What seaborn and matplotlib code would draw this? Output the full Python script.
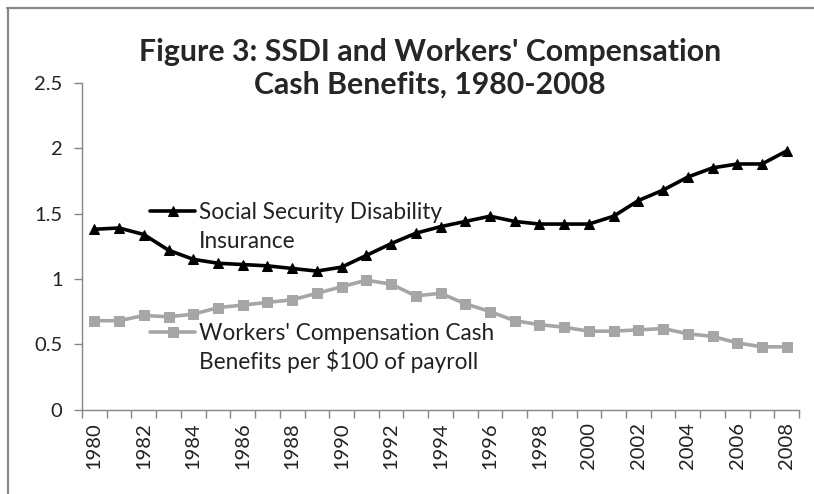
import matplotlib
matplotlib.use('Agg')
import matplotlib.pyplot as plt
import numpy as np
import pandas as pd
import seaborn as sns
from matplotlib.lines import Line2D

years = list(range(1980, 2009))
ssdi = [1.38, 1.39, 1.34, 1.22, 1.15, 1.12, 1.11, 1.10, 1.08, 1.06,
        1.09, 1.18, 1.27, 1.35, 1.40, 1.44, 1.48, 1.44, 1.42, 1.42,
        1.42, 1.48, 1.60, 1.68, 1.78, 1.85, 1.88, 1.88, 1.98]
wc = [0.68, 0.68, 0.72, 0.71, 0.73, 0.78, 0.80, 0.82, 0.84, 0.89,
      0.94, 0.99, 0.96, 0.87, 0.89, 0.81, 0.75, 0.68, 0.65, 0.63,
      0.60, 0.60, 0.61, 0.62, 0.58, 0.56, 0.51, 0.48, 0.48]
ssdi_label = ['Social Security Disability', 'Insurance']
wc_label = ["Workers' Compensation Cash", 'Benefits per $100 of payroll']
title = "Figure 3: SSDI and Workers' Compensation\nCash Benefits, 1980-2008"

df = pd.DataFrame({'year': years, 'ssdi': ssdi, 'wc': wc})

sns.set_style('white')
plt.rcParams['font.family'] = ['Lato', 'DejaVu Sans']

fig = plt.figure(figsize=(8.14, 4.94), dpi=100)
ax = fig.add_axes([0.1007, 0.171, 0.881, 0.661])

sns.lineplot(data=df, x='year', y='ssdi', ax=ax, color='black', lw=2.6,
             marker='^', markersize=7.5, markeredgecolor='black', label=ssdi_label[0])
sns.lineplot(data=df, x='year', y='wc', ax=ax, color='#a6a6a6', lw=2.6,
             marker='s', markersize=6.5, markeredgecolor='#a6a6a6', label=wc_label[0])

ax.set_xlim(1979.5, 2008.5)
ax.set_ylim(0, 2.5)
ax.set_yticks([0, 0.5, 1, 1.5, 2, 2.5])
ax.set_yticklabels(['0', '0.5', '1', '1.5', '2', '2.5'])
ax.set_xticks(years[::2])
ax.set_xticklabels([str(y) for y in years[::2]], rotation=90)
ax.set_xticks(np.arange(1979.5, 2009, 1), minor=True)
ax.tick_params(axis='x', which='major', length=0, pad=9, labelsize=14.5, labelcolor='#222222')
ax.tick_params(axis='x', which='minor', length=6, color='#868686', width=1, direction='out', bottom=True)
ax.tick_params(axis='y', length=6, color='#868686', width=1, direction='out', left=True,
               labelsize=14.5, labelcolor='#222222', pad=8)
ax.set_xlabel('')
ax.set_ylabel('')
for s in ['top', 'right']:
    ax.spines[s].set_visible(False)
for s in ['left', 'bottom']:
    ax.spines[s].set_color('#868686')
    ax.spines[s].set_linewidth(1)

handles, labels = ax.get_legend_handles_labels()
leg_kw = dict(loc='center left', frameon=False, fontsize=16.3, borderpad=0, borderaxespad=0,
              handlelength=2.0, handletextpad=0.15, labelcolor='#222222')
leg1 = ax.legend([handles[0]], [labels[0]], bbox_to_anchor=(0.0947, 0.604), **leg_kw)
ax.add_artist(leg1)
leg2 = ax.legend([handles[1]], [labels[1]], bbox_to_anchor=(0.0947, 0.232), **leg_kw)

# second lines of the legend labels, under the first ones
fig.canvas.draw()
inv = fig.transFigure.inverted()
for leg, extra in [(leg1, ssdi_label[1]), (leg2, wc_label[1])]:
    bb = leg.get_texts()[0].get_window_extent()
    x0, y0 = inv.transform((bb.x0, bb.y0))
    fig.text(x0, y0 - 29 / 494, extra, ha='left', va='bottom', fontsize=16.3, color='#222222')

fig.text(0.528, 0.862, title, ha='center', va='center', fontsize=21.8,
         fontweight='bold', linespacing=1.2)

# chart frame (top and left edges show in the picture)
fig.add_artist(Line2D([7.5 / 814, 7.5 / 814], [0, 1 - 8 / 494], transform=fig.transFigure,
                      color='#888888', lw=1.6))
fig.add_artist(Line2D([7 / 814, 1], [1 - 8.5 / 494, 1 - 8.5 / 494], transform=fig.transFigure,
                      color='#888888', lw=1.6))

fig.savefig('out.png', dpi=100)
